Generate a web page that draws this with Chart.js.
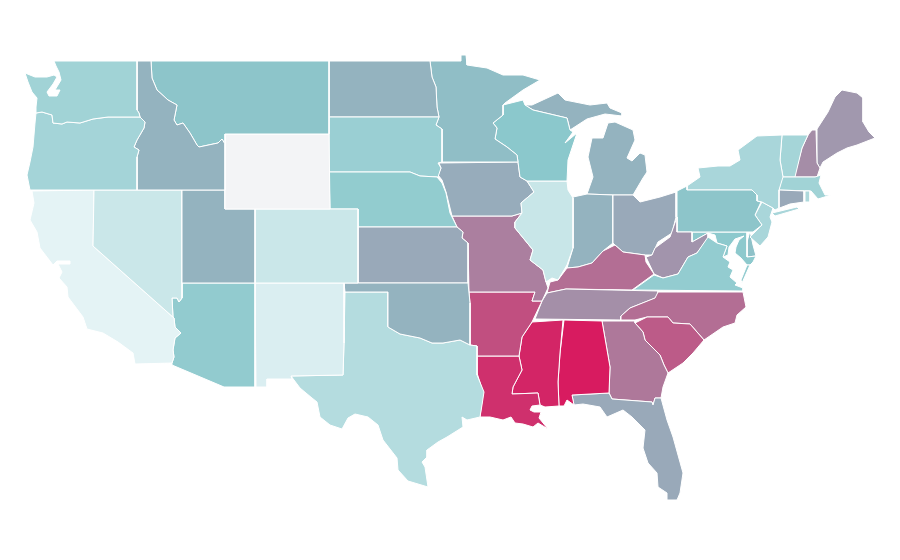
<!DOCTYPE html>
<html>
<head>
<meta charset="utf-8">
<title>US states</title>
<script src="https://cdn.jsdelivr.net/npm/chart.js@4"></script>
<style>
  html, body { margin: 0; padding: 0; background: #fff; }
  canvas { display: block; }
</style>
</head>
<body>
<canvas id="map" width="900" height="560"></canvas>
<script>
// state names and values (index 0-100), null = no data
const stateNames = ['Washington','Oregon','Idaho','Montana','Wyoming','Utah','Nevada','California','Arizona','Colorado','New Mexico','Oklahoma','Texas','Kansas','Nebraska','South Dakota','North Dakota','Minnesota','Wisconsin','Illinois','Iowa','Missouri','Arkansas','Louisiana','Mississippi','Alabama','Florida','Georgia','South Carolina','North Carolina','Tennessee','Kentucky','Virginia','West Virginia','Ohio','Indiana','Michigan','Pennsylvania','New York','New Jersey','Connecticut','Rhode Island','Massachusetts','Vermont','New Hampshire','Maine','Maryland','Delaware'];
const stateValues = [38,36.5,56,51,null,56,16,2,46.5,16,7.5,56,28,59,46,42,56,53,50,17,58,71,85,94,97,100,59,73,81.5,76,66.5,76,45.5,65,59,56,56,51,34,34,59,31,38,36,67,64,49,52];

// outlines in map units, each state is a list of closed rings of x,y pairs
const stateOutlines = [
  [[54,61,137,61,137,110,139,113,140,117,108,117,93,119,80,123,67,122,62,124,53,123,52,115,42,112,36,113,36,107,37,98,32,92,28,82,25,73,35,77,47,77,54,75,57,77,53,84,47,92,49,96,57,96,60,90,55,90,61,80,59,72,56,66]],
  [[36,113,42,112,52,115,53,123,62,124,67,122,80,123,93,119,108,117,140,117,145,122,144,128,137,140,134,147,139,150,137,157,137,190,30,190,27,175,30,162,33,147,35,123]],
  [[137,61,151,61,152,78,157,90,168,100,177,105,174,120,177,125,183,123,190,133,197,145,199,147,218,143,222,139,225,144,225,190,137,190,137,157,139,150,134,147,137,140,144,128,145,122,140,117,139,113,137,110]],
  [[151,61,329,61,329,134,225,134,225,144,222,139,218,143,199,147,197,145,190,133,183,123,177,125,174,120,177,105,168,100,157,90,152,78]],
  [[225,134,329,134,330,209,225,209]],
  [[182,190,225,190,225,209,255,209,255,283,182,283]],
  [[94,190,182,190,182,298,179,302,177,298,172,298,173,317,174,318,93,246]],
  [[32,191,94,190,93,246,174,318,175,327,181,333,175,338,173,350,174,357,172,363,135,364,133,353,118,342,103,333,87,329,83,317,68,297,67,287,59,278,62,272,58,264,70,264,70,261,57,261,53,265,40,248,37,232,30,220,34,203]],
  [[182,283,255,283,255,387,224,387,172,365,172,363,174,357,173,350,175,338,181,333,175,327,174,318,173,317,172,298,177,298,179,302,182,298]],
  [[255,209,358,209,358,283,255,283]],
  [[255,283,344,283,344,343,343,375,291,376,292,379,267,379,267,387,256,387]],
  [[344,283,468,283,470,303,470,345,460,340,443,343,432,343,420,338,400,334,388,327,388,292,345,292]],
  [[345,292,388,292,388,327,400,334,420,338,432,343,443,343,460,340,470,345,477,346,477,375,484,392,482,405,480,417,467,420,462,417,463,427,447,437,438,442,427,450,427,457,422,462,425,467,428,487,408,481,398,470,397,458,383,440,378,425,368,417,355,414,348,418,342,429,330,425,320,417,317,402,312,398,300,388,291,376,343,375,344,343]],
  [[358,227,457,227,463,232,462,238,468,243,468,283,358,283]],
  [[329,172,410,172,420,176,437,177,442,183,446,193,450,213,457,227,358,227,358,209,330,209]],
  [[329,117,439,117,436,125,442,129,442,162,438,163,441,168,438,177,437,177,420,176,410,172,329,172]],
  [[329,61,430,61,432,77,436,87,437,107,439,117,329,117]],
  [[430,61,461,61,461,55,466,55,467,65,487,68,503,75,523,75,540,80,523,90,505,103,503,105,503,115,493,123,497,128,495,139,507,147,517,155,518,162,442,162,442,129,436,125,439,117,437,107,436,87,432,77]],
  [[503,105,523,100,525,105,533,110,567,118,570,130,573,132,565,143,577,133,568,160,567,181,527,181,520,177,518,162,517,155,507,147,495,139,497,128,493,123,503,115]],
  [[527,181,567,181,568,190,573,198,573,248,567,265,558,280,552,278,546,282,543,270,530,260,533,250,515,228,515,222,522,213,521,203,534,192]],
  [[439,163,518,162,520,177,527,181,534,192,521,203,522,213,512,216,452,216,448,200,446,192,442,180,438,175,441,168]],
  [[452,216,512,216,522,213,515,222,515,228,533,250,530,260,543,270,546,282,548,288,542,301,532,301,535,292,469,292,468,243,462,238,463,232,457,227]],
  [[469,292,535,292,532,301,542,301,532,322,522,337,519,356,477,356,477,346,470,345,470,303]],
  [[477,356,519,356,522,370,513,387,512,394,538,393,540,405,532,406,530,410,534,412,541,412,539,418,548,429,538,423,533,427,523,424,515,423,511,417,503,420,490,417,480,417,483,392,477,373]],
  [[532,322,563,320,560,353,558,382,559,406,545,407,540,405,538,393,512,394,513,387,522,370,519,356,522,337]],
  [[564,320,602,321,610,367,609,393,572,395,574,405,567,400,564,406,559,406,558,382,560,353]],
  [[572,395,609,393,612,399,652,402,653,405,655,398,661,398,667,420,673,437,683,473,680,493,677,500,667,500,667,493,658,487,657,473,648,463,643,448,645,430,632,417,623,410,607,417,600,407,583,404,574,405]],
  [[602,321,635,321,635,323,643,332,645,340,660,355,664,365,668,373,663,387,661,398,655,398,653,405,652,402,612,399,609,393,610,367]],
  [[635,323,647,317,668,317,673,323,690,324,704,340,693,353,683,363,668,373,664,365,660,355,645,340,643,332]],
  [[658,292,743,292,746,307,737,315,735,323,723,327,704,340,690,324,673,323,668,317,647,317,635,320,621,320,621,316,630,308,655,298]],
  [[547,293,566,289,658,291,658,297,630,308,621,316,621,320,535,319,542,301]],
  [[547,293,550,282,558,280,567,268,578,267,592,263,603,251,615,245,623,252,645,255,646,262,654,274,632,290,566,289]],
  [[633,290,654,275,663,278,678,274,688,257,697,253,708,237,717,243,727,246,723,257,730,262,728,267,733,270,730,277,737,283,735,285,743,288,743,291],
   [747,265,750,265,742,283,741,280]],
  [[646,257,652,255,655,248,670,237,677,217,677,232,692,232,692,242,708,233,708,238,697,253,688,257,678,274,663,278,654,274]],
  [[613,195,633,195,640,202,660,197,676,192,676,217,672,233,658,242,652,255,645,255,623,252,615,245,613,243]],
  [[573,197,587,194,613,195,613,243,603,251,592,263,578,267,567,268,573,248]],
  [[587,194,593,177,588,157,592,138,603,138,608,123,615,122,633,130,635,140,627,158,632,161,640,153,645,155,647,172,643,178,633,195,613,195],
   [533,110,525,105,532,105,558,93,565,100,590,105,607,103,610,108,622,113,622,116,605,114,587,119,570,130,567,118]],
  [[677,191,687,186,687,190,752,190,757,195,757,201,761,202,755,215,762,225,753,232,677,232]],
  [[687,186,700,177,698,168,718,166,730,166,740,160,738,150,757,136,782,135,780,160,783,177,779,190,779,208,775,210,773,208,762,202,757,201,757,195,752,190,687,190],
   [772,213,797,207,799,209,775,216]],
  [[762,202,773,208,770,217,772,222,768,237,760,246,750,237,762,225,755,215]],
  [[779,190,804,191,804,202,790,204,777,209]],
  [[805,191,810,191,810,202,805,202]],
  [[782,177,815,177,821,175,819,183,825,195,831,195,818,199,811,191,779,190]],
  [[782,135,808,135,802,148,795,177,783,177,780,160]],
  [[812,130,816,130,817,163,820,168,817,177,794,177,802,148,808,135]],
  [[817,129,828,112,835,97,842,90,857,93,863,98,863,122,869,132,875,138,857,145,847,148,837,153,823,162,820,168,817,163]],
  [[692,232,747,232,747,257,756,256,753,262,750,265,747,265,741,258,735,253,736,247,739,240,744,236,735,239,729,247,728,255,723,257,727,246,717,243,715,235,708,233,692,242]],
  [[750,231,753,245,756,256,747,257,747,242]]
];

// 颜色比例尺: light -> teal -> crimson
const lowColor = [232, 245, 247];
const midColor = [139, 200, 204];
const highColor = [216, 27, 96];
const noDataColor = 'rgb(243, 244, 246)';

function mix(a, b, t) {
    return 'rgb(' + a.map((c, i) => Math.round(c + (b[i] - c) * t)).join(',') + ')';
}

function colorFor(value) {
    if (value === null) return noDataColor;
    return value <= 50 ? mix(lowColor, midColor, value / 50) : mix(midColor, highColor, (value - 50) / 50);
}

// one scatter dataset per ring
const datasets = [];
stateOutlines.forEach((rings, i) => {
    rings.forEach(ring => {
        const points = [];
        for (let k = 0; k < ring.length; k += 2) {
            points.push({ x: ring[k], y: ring[k + 1] });
        }
        points.push(points[0]); // close the ring
        datasets.push({
            label: stateNames[i],
            data: points,
            showLine: true,
            fill: 'shape',
            tension: 0,
            pointRadius: 0,
            pointHoverRadius: 0,
            borderWidth: 1,
            borderColor: '#ffffff',
            backgroundColor: colorFor(stateValues[i])
        });
    });
});

new Chart(document.getElementById('map'), {
    type: 'scatter',
    data: { datasets: datasets },
    options: {
        responsive: false,
        animation: false,
        layout: { padding: 0 },
        plugins: {
            legend: { display: false },
            title: { display: false },
            tooltip: { enabled: false }
        },
        scales: {
            x: { type: 'linear', min: 0, max: 900, display: false },
            y: { type: 'linear', min: 0, max: 560, reverse: true, display: false }
        }
    }
});
</script>
</body>
</html>
